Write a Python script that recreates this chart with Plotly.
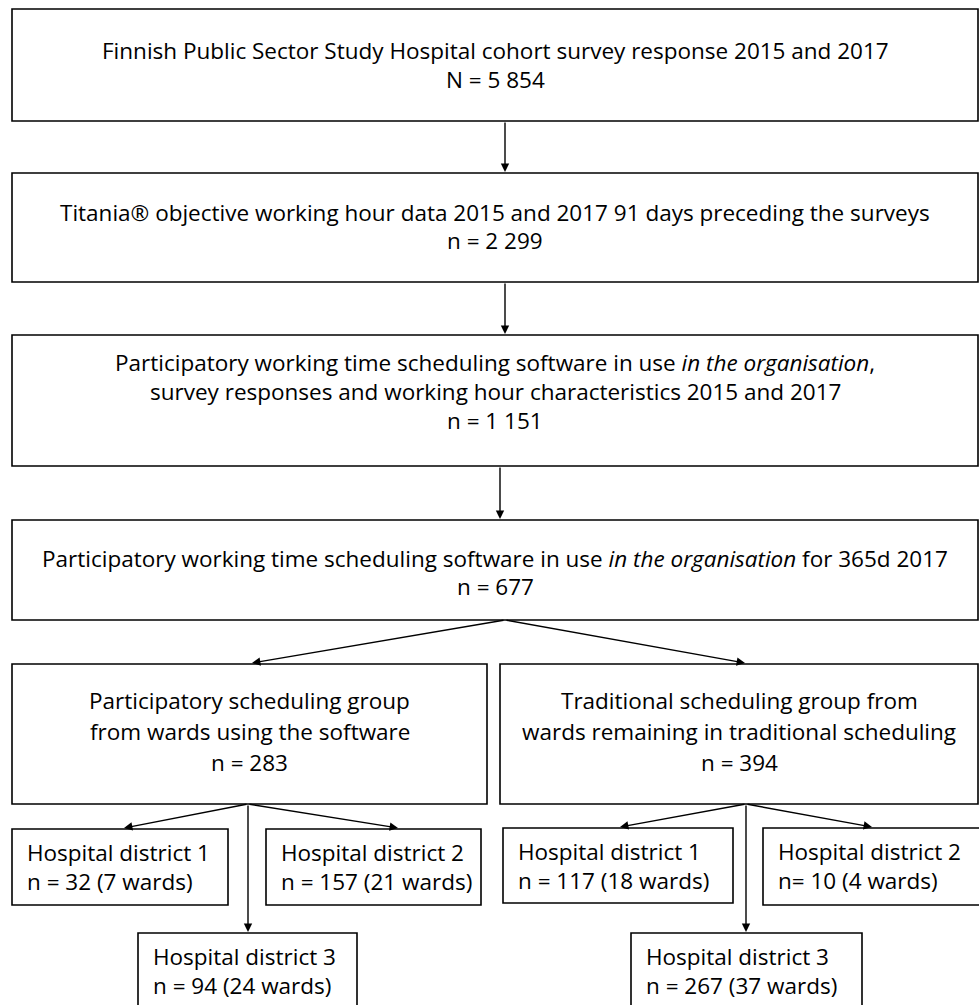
import plotly.graph_objects as go

# ---- data (text content of the flowchart) ----
stage_titles = [
    ["Finnish Public Sector Study Hospital cohort survey response 2015 and 2017"],
    ["Titania® objective working hour data 2015 and 2017 91 days preceding the surveys"],
    ["Participatory working time scheduling software in use <i>in the organisation</i>,",
     "survey responses and working hour characteristics 2015 and 2017"],
    ["Participatory working time scheduling software in use <i>in the organisation</i> for 365d 2017"],
]
stage_counts = ["N = 5 854", "n = 2 299", "n = 1 151", "n = 677"]

group_titles = [
    ["Participatory scheduling group", "from wards using the software"],
    ["Traditional scheduling group from", "wards remaining in traditional scheduling"],
]
group_counts = ["n = 283", "n = 394"]

district_names = ["Hospital district 1", "Hospital district 2", "Hospital district 3",
                  "Hospital district 1", "Hospital district 2", "Hospital district 3"]
district_counts = ["n = 32 (7 wards)", "n = 157 (21 wards)", "n = 94 (24 wards)",
                   "n = 117 (18 wards)", "n= 10 (4 wards)", "n = 267 (37 wards)"]

# ---- layout geometry (pixels) ----
W, H = 979, 1005
FONT = "Open Sans"
FS = 22.5
stage_boxes = [(12, 9, 978, 121), (12, 173, 978, 282), (12, 335, 978, 466), (12, 520, 978, 620)]
stage_line_y = [[50, 79], [212, 240], [362, 391, 420], [558, 586]]
group_boxes = [(12, 664, 487, 804), (500, 664, 978, 804)]
group_line_y = [700, 731, 762]
district_boxes = [(12, 829, 228, 905), (266, 829, 481, 905), (138, 933, 357, 1012),
                  (503, 828, 733, 903), (763, 828, 985, 905), (631, 933, 862, 1012)]

fig = go.Figure()
shapes = []
annotations = []

def box(b):
    shapes.append(dict(type="rect", xref="x", yref="y", x0=b[0], y0=b[1], x1=b[2], y1=b[3],
                       line=dict(color="black", width=1.6), fillcolor="white", layer="below"))

def text(x, y, s, size, anchor="center"):
    annotations.append(dict(x=x, y=y, xref="x", yref="y", text=s, showarrow=False,
                            xanchor=anchor, yanchor="middle",
                            font=dict(family=FONT, size=size, color="black")))

def arrow(x0, y0, x1, y1):
    annotations.append(dict(x=x1, y=y1, ax=x0, ay=y0, xref="x", yref="y", axref="x", ayref="y",
                            text="", showarrow=True, arrowhead=2, arrowsize=1.2,
                            arrowwidth=1.4, arrowcolor="black", standoff=0))

for i, b in enumerate(stage_boxes):
    box(b)
    lines = stage_titles[i] + [stage_counts[i]]
    cx = (b[0] + b[2]) / 2
    for s, y in zip(lines, stage_line_y[i]):
        text(cx, y, s, FS)

for i, b in enumerate(group_boxes):
    box(b)
    lines = group_titles[i] + [group_counts[i]]
    cx = (b[0] + b[2]) / 2
    for s, y in zip(lines, group_line_y):
        text(cx, y, s, FS)

for i, b in enumerate(district_boxes):
    box(b)
    y0 = b[1] + 23
    text(b[0] + 13, y0, district_names[i], FS, "left")
    text(b[0] + 13, y0 + 29, district_counts[i], FS, "left")

# arrows between stages
arrow(505, 121, 505, 172)
arrow(505, 282, 505, 334)
arrow(500, 466, 500, 519)
arrow(505, 620, 252, 663)
arrow(505, 620, 745, 663)
# left group
arrow(248, 804, 124, 828)
arrow(248, 804, 398, 828)
arrow(248, 804, 248, 932)
# right group
arrow(746, 804, 620, 827)
arrow(746, 804, 872, 827)
arrow(746, 804, 746, 932)

fig.update_layout(
    width=W, height=H, margin=dict(l=0, r=0, t=0, b=0),
    paper_bgcolor="white", plot_bgcolor="white",
    xaxis=dict(range=[0, W], visible=False, fixedrange=True),
    yaxis=dict(range=[H, 0], visible=False, fixedrange=True),
    shapes=shapes, annotations=annotations, showlegend=False,
)
fig.write_html("out.html", config={"displayModeBar": False},
               post_script="document.body.style.margin='0px';document.body.style.overflow='hidden';")
